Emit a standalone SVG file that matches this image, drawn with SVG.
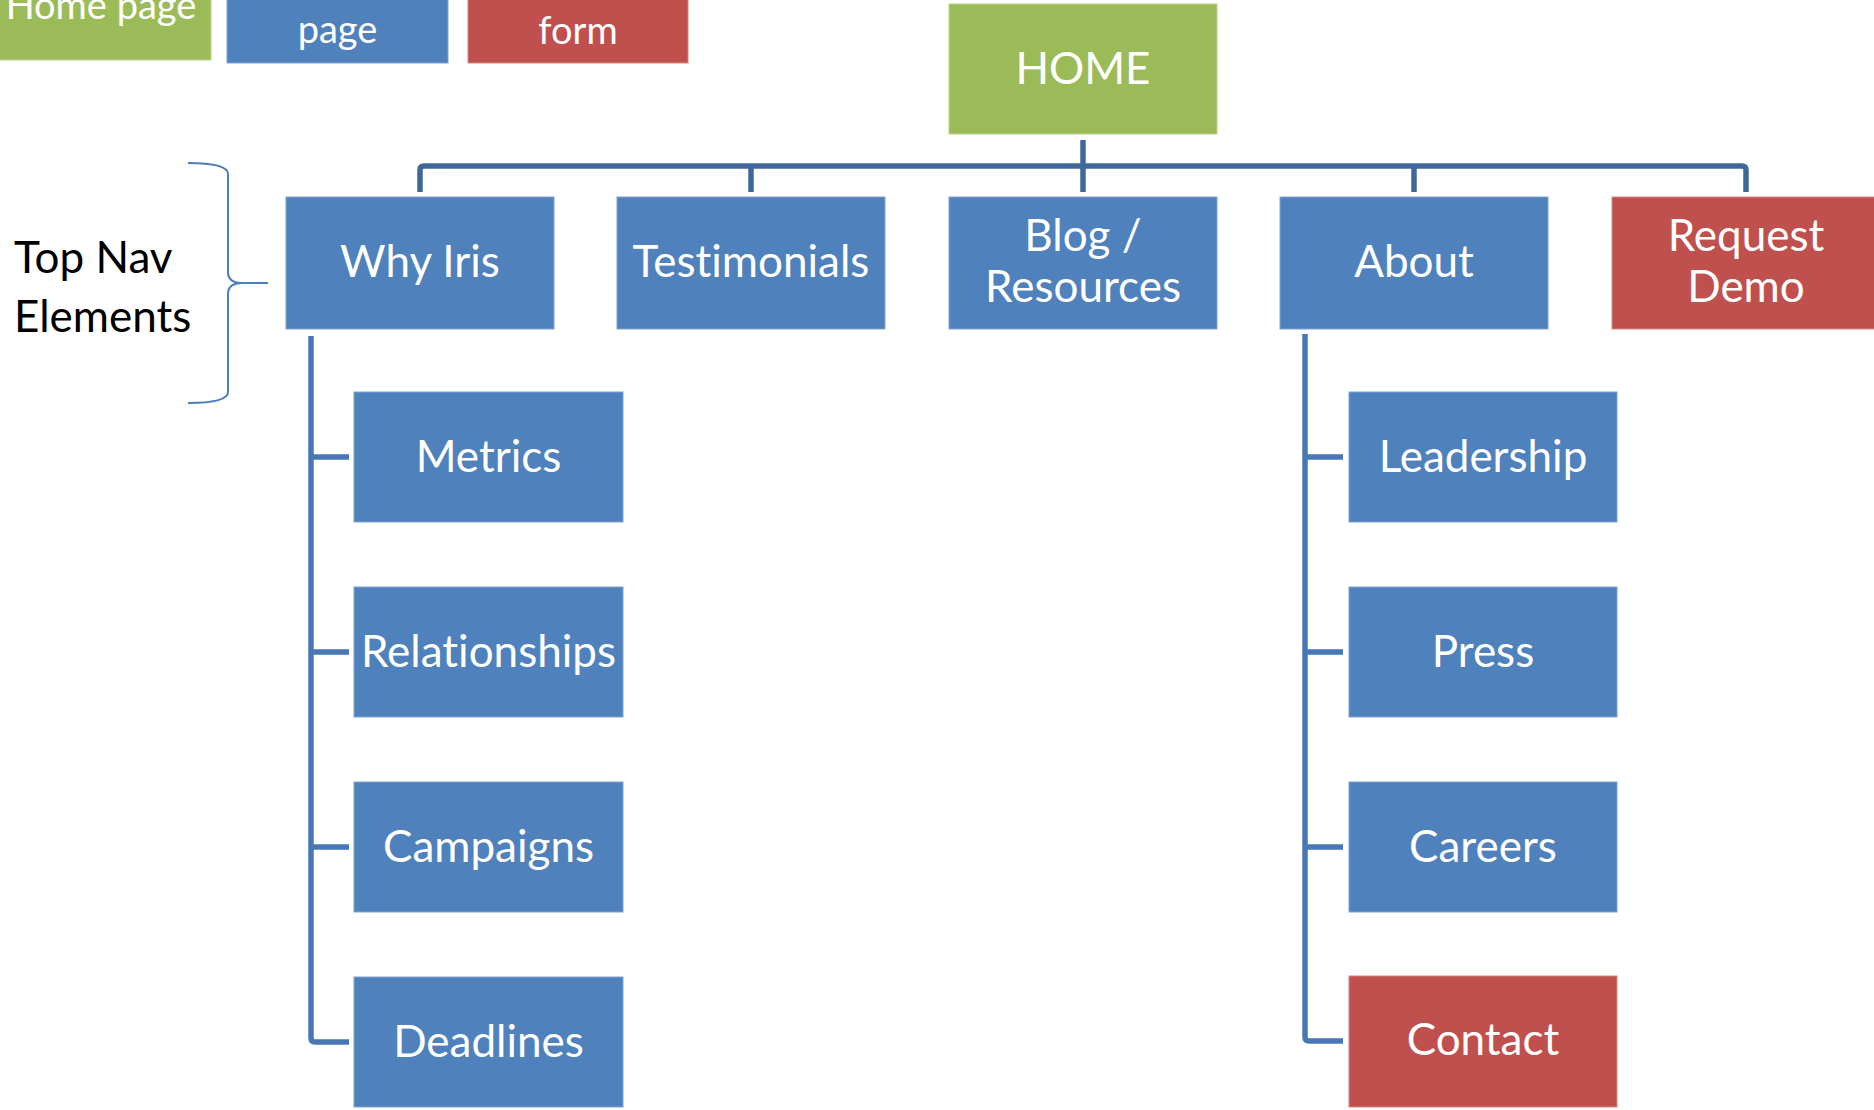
<svg xmlns="http://www.w3.org/2000/svg" width="1874" height="1110" viewBox="0 0 1874 1110">
<style>
  .blue { fill: #4F81BD; stroke: #7FA3D1; stroke-width: 1; }
  .green { fill: #9BBB59; stroke: #BBD38A; stroke-width: 1; }
  .red { fill: #C0504D; stroke: #D68582; stroke-width: 1; }
  text { font-variant-ligatures: none; font-feature-settings: "liga" 0, "clig" 0; }
  .lbl { font-family: Lato, "Liberation Sans", sans-serif; font-size: 44px; fill: #FFFFFF; text-anchor: middle; }
  .leg { font-family: Lato, "Liberation Sans", sans-serif; font-size: 38px; fill: #FFFFFF; text-anchor: middle; }
  .side { font-family: Lato, "Liberation Sans", sans-serif; font-size: 44px; fill: #000000; }
  .bus { fill: none; stroke: #3E6899; stroke-width: 5.5; stroke-linejoin: round; }
  .sub { fill: none; stroke: #4777B4; stroke-width: 5.5; stroke-linejoin: round; }
  .brace { fill: none; stroke: #4A7EBB; stroke-width: 2; }
</style>

<g id="legend">
  <g id="legend-home"><rect class="green" x="-2" y="-10" width="213" height="70"/><text class="leg" x="101" y="19">Home page</text></g>
  <g id="legend-page"><rect class="blue" x="227" y="-10" width="221" height="73"/><text class="leg" x="337.5" y="43">page</text></g>
  <g id="legend-form"><rect class="red" x="468" y="-10" width="220" height="73"/><text class="leg" x="578" y="44">form</text></g>
</g>

<g id="top-nav-label">
  <path class="brace" d="M188,163 Q228,163 228,174 L228,272 Q228,283 242,283 L268,283 M242,283 Q228,283 228,294 L228,392 Q228,403 188,403"/>
  <text class="side" x="14" y="273">Top Nav</text>
  <text class="side" x="14" y="332">Elements</text>
</g>

<g id="connectors">
  <path class="bus" d="M1083,140 L1083,192"/>
  <path class="bus" d="M420,192 L420,170 Q420,166 424,166 L1742,166 Q1746,166 1746,170 L1746,192"/>
  <path class="bus" d="M751,166 L751,192"/>
  <path class="bus" d="M1414,166 L1414,192"/>
  <path class="sub" d="M311,336 L311,1038 Q311,1042 315,1042 L349,1042"/>
  <path class="sub" d="M311,457 L349,457 M311,652 L349,652 M311,847 L349,847"/>
  <path class="sub" d="M1305,334 L1305,1037 Q1305,1041 1309,1041 L1343,1041"/>
  <path class="sub" d="M1305,457 L1343,457 M1305,652 L1343,652 M1305,847 L1343,847"/>
</g>

<g id="home"><rect class="green" x="949" y="4" width="268" height="130"/><text class="lbl" x="1083" y="84">HOME</text></g>

<g id="why-iris"><rect class="blue" x="286" y="197" width="268" height="132"/><text class="lbl" x="420" y="277">Why Iris</text></g>
<g id="testimonials"><rect class="blue" x="617" y="197" width="268" height="132"/><text class="lbl" x="751" y="277">Testimonials</text></g>
<g id="blog-resources"><rect class="blue" x="949" y="197" width="268" height="132"/><text class="lbl" x="1083" y="251">Blog /</text><text class="lbl" x="1083" y="302">Resources</text></g>
<g id="about"><rect class="blue" x="1280" y="197" width="268" height="132"/><text class="lbl" x="1414" y="277">About</text></g>
<g id="request-demo"><rect class="red" x="1612" y="197" width="268" height="132"/><text class="lbl" x="1746" y="251">Request</text><text class="lbl" x="1746" y="302">Demo</text></g>

<g id="metrics"><rect class="blue" x="354" y="392" width="269" height="130"/><text class="lbl" x="488.5" y="472">Metrics</text></g>
<g id="relationships"><rect class="blue" x="354" y="587" width="269" height="130"/><text class="lbl" x="488.5" y="667">Relationships</text></g>
<g id="campaigns"><rect class="blue" x="354" y="782" width="269" height="130"/><text class="lbl" x="488.5" y="862">Campaigns</text></g>
<g id="deadlines"><rect class="blue" x="354" y="977" width="269" height="130"/><text class="lbl" x="488.5" y="1057">Deadlines</text></g>

<g id="leadership"><rect class="blue" x="1349" y="392" width="268" height="130"/><text class="lbl" x="1483" y="472">Leadership</text></g>
<g id="press"><rect class="blue" x="1349" y="587" width="268" height="130"/><text class="lbl" x="1483" y="667">Press</text></g>
<g id="careers"><rect class="blue" x="1349" y="782" width="268" height="130"/><text class="lbl" x="1483" y="862">Careers</text></g>
<g id="contact"><rect class="red" x="1349" y="976" width="268" height="131"/><text class="lbl" x="1483" y="1055">Contact</text></g>
</svg>
